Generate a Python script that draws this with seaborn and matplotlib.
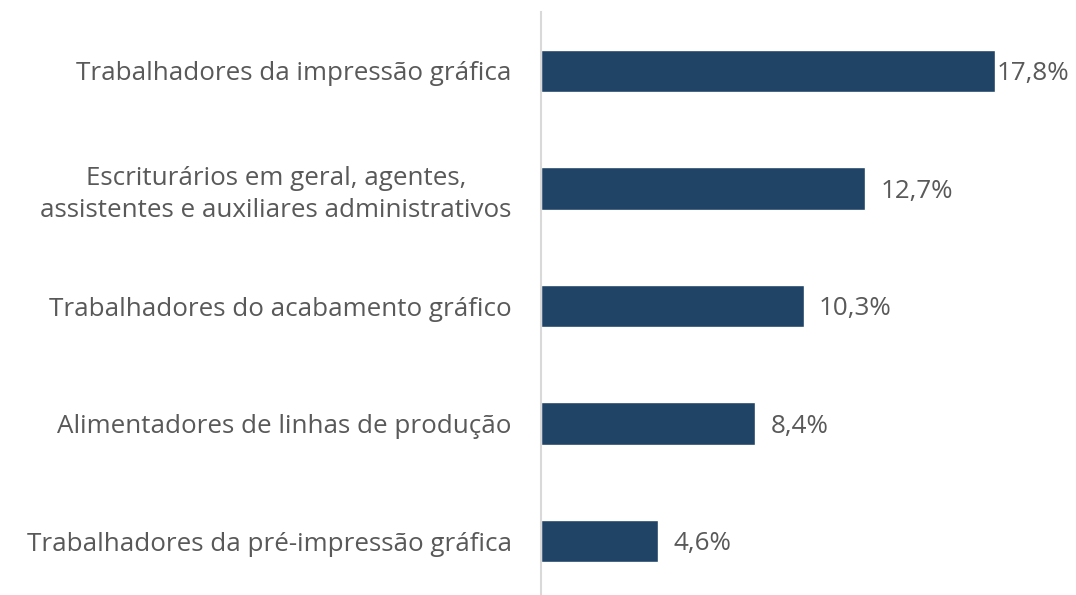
import matplotlib
matplotlib.use('Agg')
import matplotlib.pyplot as plt
import seaborn as sns
import pandas as pd

### DATA ###

categories = [
    'Trabalhadores da impressão gráfica',
    'Escriturários em geral, agentes,\nassistentes e auxiliares administrativos',
    'Trabalhadores do acabamento gráfico',
    'Alimentadores de linhas de produção',
    'Trabalhadores da pré-impressão gráfica',
]
values = [17.8, 12.7, 10.3, 8.4, 4.6]
value_labels = ['17,8%', '12,7%', '10,3%', '8,4%', '4,6%']

bar_color = '#1F4465'
text_color = '#595959'

sns.set_theme(style='white')
plt.rcParams['font.family'] = ['Open Sans', 'DejaVu Sans']

df = pd.DataFrame({'category': categories, 'value': values})

fig = plt.figure(figsize=(10.76, 5.95), dpi=100)
ax = fig.add_axes([0.5028, -0.0084, 0.474, 0.988])

sns.barplot(
    data=df,
    x='value',
    y='category',
    color=bar_color,
    width=0.36,
    saturation=1,
    ax=ax
)

ax.set_xlim(0, 20)
ax.set_xlabel('')
ax.set_ylabel('')
ax.set_xticks([])

ax.tick_params(axis='y', length=0, pad=21, labelsize=18.7, labelcolor=text_color)
for lbl in ax.get_yticklabels():
    lbl.set_multialignment('center')
    lbl.set_linespacing(1.35)

for s in ['top', 'right', 'bottom']:
    ax.spines[s].set_visible(False)
ax.spines['left'].set_color('#D9D9D9')
ax.spines['left'].set_linewidth(1.5)

# value labels
pads = [1, 11, 11, 11, 11]
for bar, txt, pad in zip(ax.patches, value_labels, pads):
    ax.annotate(
        txt,
        (bar.get_width(), bar.get_y() + bar.get_height() / 2),
        xytext=(pad, -2),
        textcoords='offset points',
        ha='left',
        va='center',
        fontsize=18.7,
        color=text_color
    )

fig.savefig('out.png', dpi=100)
